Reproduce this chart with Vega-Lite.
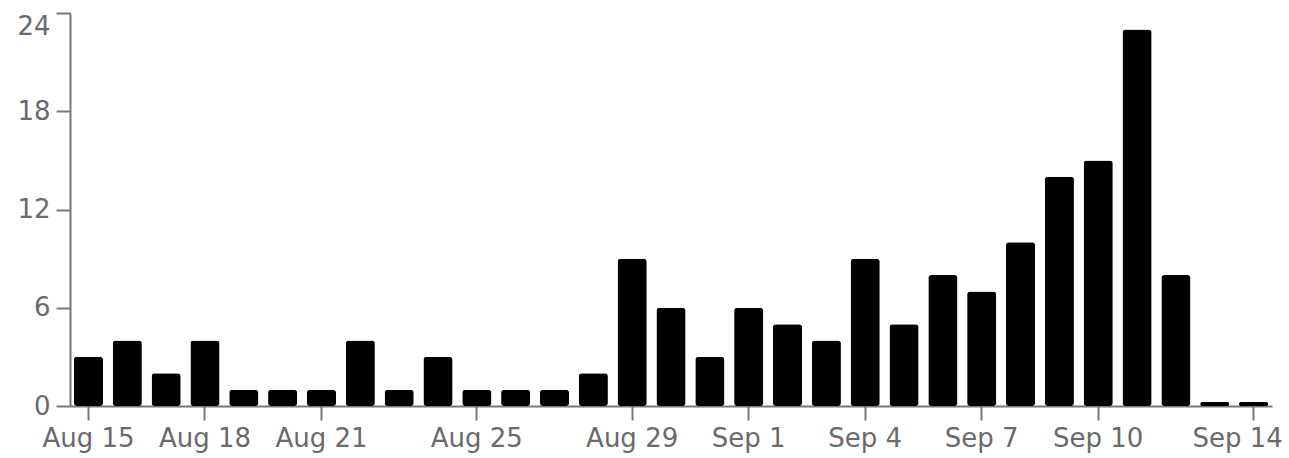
{
  "$schema": "https://vega.github.io/schema/vega-lite/v6.json",
  "autosize": {"type": "none"},
  "width": 1202,
  "height": 393,
  "padding": {"left": 70, "top": 13, "right": 17, "bottom": 52},
  "background": "white",
  "data": {"values": [
    {"day": "Aug 15", "count": 3},
    {"day": "Aug 16", "count": 4},
    {"day": "Aug 17", "count": 2},
    {"day": "Aug 18", "count": 4},
    {"day": "Aug 19", "count": 1},
    {"day": "Aug 20", "count": 1},
    {"day": "Aug 21", "count": 1},
    {"day": "Aug 22", "count": 4},
    {"day": "Aug 23", "count": 1},
    {"day": "Aug 24", "count": 3},
    {"day": "Aug 25", "count": 1},
    {"day": "Aug 26", "count": 1},
    {"day": "Aug 27", "count": 1},
    {"day": "Aug 28", "count": 2},
    {"day": "Aug 29", "count": 9},
    {"day": "Aug 30", "count": 6},
    {"day": "Aug 31", "count": 3},
    {"day": "Sep 1", "count": 6},
    {"day": "Sep 2", "count": 5},
    {"day": "Sep 3", "count": 4},
    {"day": "Sep 4", "count": 9},
    {"day": "Sep 5", "count": 5},
    {"day": "Sep 6", "count": 8},
    {"day": "Sep 7", "count": 7},
    {"day": "Sep 8", "count": 10},
    {"day": "Sep 9", "count": 14},
    {"day": "Sep 10", "count": 15},
    {"day": "Sep 11", "count": 23},
    {"day": "Sep 12", "count": 8},
    {"day": "Sep 13", "count": 0.25},
    {"day": "Sep 14", "count": 0.25}
  ]},
  "mark": {"type": "bar", "color": "#000000", "cornerRadius": 3},
  "encoding": {
    "x": {
      "field": "day", "type": "ordinal", "sort": null,
      "scale": {"paddingInner": 0.25, "paddingOuter": 0.1},
      "axis": {
        "title": null,
        "values": ["Aug 15", "Aug 18", "Aug 21", "Aug 25", "Aug 29", "Sep 1", "Sep 4", "Sep 7", "Sep 10", "Sep 14"],
        "labelAngle": 0,
        "labelFont": "DejaVu Sans", "labelFontSize": 26, "labelColor": "#6a6a6a",
        "labelPadding": 5,
        "labelOffset": {"condition": {"test": "datum.value === 'Sep 14'", "value": -16}, "value": 0},
        "tickSize": 14, "tickColor": "#777777", "tickWidth": 2,
        "domainColor": "#777777", "domainWidth": 2,
        "grid": false
      }
    },
    "y": {
      "field": "count", "type": "quantitative",
      "scale": {"domain": [0, 24], "nice": false},
      "axis": {
        "title": null,
        "values": [0, 6, 12, 18, 24],
        "labelFont": "DejaVu Sans", "labelFontSize": 26, "labelColor": "#6a6a6a",
        "labelPadding": 6,
        "labelBaseline": {"condition": {"test": "datum.value === 24", "value": "top"}, "value": "middle"},
        "tickSize": 14, "tickColor": "#777777", "tickWidth": 2,
        "domainColor": "#777777", "domainWidth": 2,
        "grid": false
      }
    }
  },
  "config": {"view": {"stroke": null}}
}
